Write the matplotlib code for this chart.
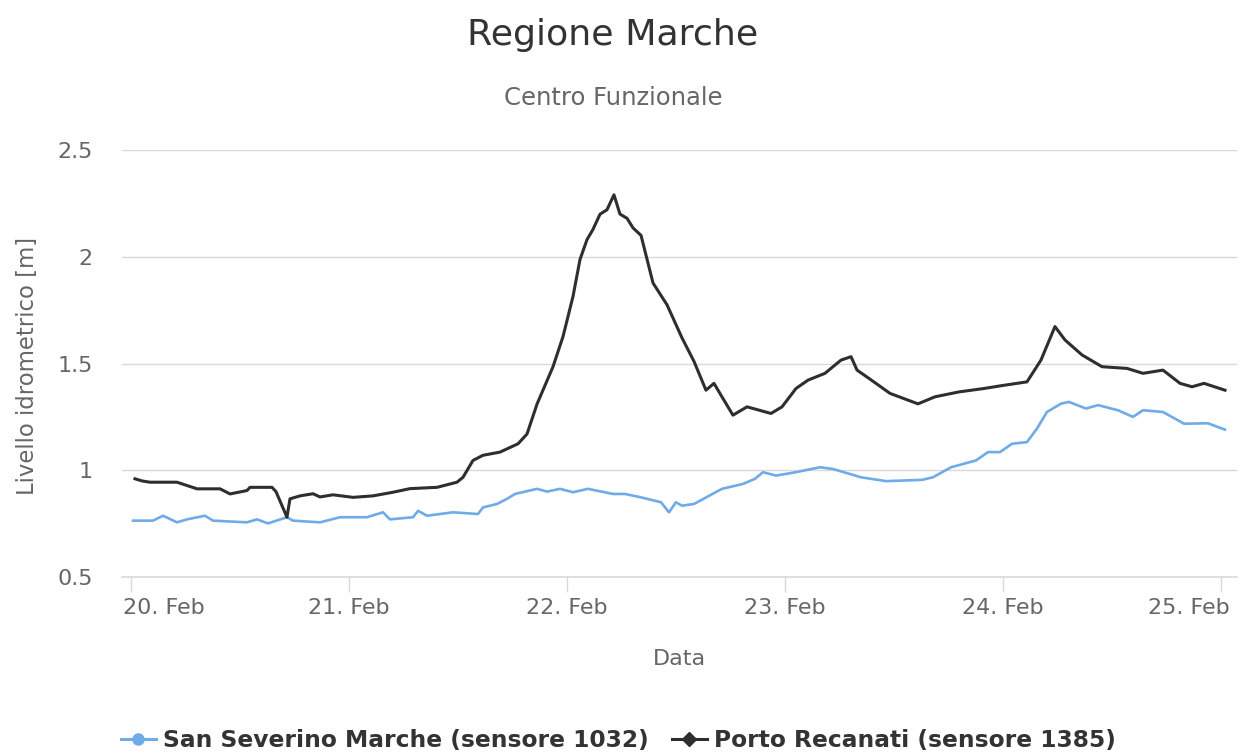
import matplotlib
matplotlib.use("Agg")
import matplotlib.pyplot as plt
from matplotlib.lines import Line2D
import matplotlib.transforms as mtransforms

# ---- data (hours since 20 Feb 00:00, water level in m) ----
porto_hours = [0.44, 1.21, 2.09, 5.06, 7.27, 9.80, 10.90, 12.77, 13.10, 15.52, 15.96, 17.17, 17.50,
               18.61, 20.04, 20.81, 22.24, 24.44, 26.64, 28.84, 30.72, 33.69, 35.89, 36.55, 37.65,
               38.75, 40.62, 42.61, 43.60, 44.70, 46.46, 47.56, 48.66, 49.43, 50.20, 50.86, 51.63,
               52.40, 53.17, 53.83, 54.61, 55.27, 56.15, 57.47, 59.01, 60.66, 61.98, 63.30, 64.18,
               65.06, 66.27, 67.82, 70.46, 71.67, 73.21, 74.53, 76.40, 78.17, 79.27, 79.93, 81.25,
               83.56, 86.64, 88.51, 91.16, 93.91, 96.11, 98.64, 100.18, 101.72, 102.83, 104.70,
               106.90, 109.65, 111.41, 113.61, 115.49, 116.81, 118.13, 120.44]
porto_level = [0.96, 0.95, 0.944, 0.944, 0.913, 0.913, 0.889, 0.905, 0.92, 0.92, 0.90, 0.78, 0.866,
               0.88, 0.89, 0.875, 0.885, 0.873, 0.88, 0.897, 0.914, 0.92, 0.944, 0.967, 1.046,
               1.07, 1.085, 1.124, 1.17, 1.31, 1.485, 1.626, 1.814, 1.987, 2.08, 2.128, 2.199,
               2.22, 2.29, 2.2, 2.18, 2.135, 2.10, 1.877, 1.775, 1.62, 1.51, 1.375, 1.407,
               1.344, 1.258, 1.297, 1.266, 1.297, 1.383, 1.422, 1.454, 1.516, 1.532, 1.469, 1.43,
               1.36, 1.311, 1.344, 1.367, 1.383, 1.398, 1.414, 1.516, 1.673, 1.61, 1.54,
               1.485, 1.477, 1.454, 1.469, 1.407, 1.391, 1.407, 1.375]

sanseverino_hours = [0.22, 2.42, 3.52, 5.06, 6.17, 8.15, 9.03, 12.77, 13.87, 15.08, 17.17, 17.83,
                     20.81, 23.01, 25.98, 27.74, 28.51, 31.05, 31.60, 32.59, 35.45, 38.20, 38.75,
                     40.29, 41.39, 42.28, 44.70, 45.80, 47.23, 48.66, 50.31, 53.06, 54.39, 56.15,
                     58.35, 59.23, 59.99, 60.66, 61.98, 65.06, 67.38, 68.70, 69.58, 71.01, 73.21,
                     75.85, 77.28, 80.37, 83.12, 87.08, 88.29, 90.28, 93.03, 94.35, 95.67, 96.99,
                     98.64, 99.74, 100.84, 102.39, 103.27, 105.14, 106.46, 108.66, 110.31, 111.41,
                     113.61, 115.93, 118.57, 120.44]
sanseverino_level = [0.764, 0.764, 0.787, 0.756, 0.77, 0.787, 0.764, 0.756, 0.77, 0.751, 0.78, 0.764,
                     0.756, 0.78, 0.78, 0.803, 0.77, 0.78, 0.81, 0.787, 0.803, 0.795, 0.826,
                     0.842, 0.866, 0.889, 0.913, 0.9, 0.913, 0.897, 0.913, 0.889, 0.889, 0.873,
                     0.85, 0.803, 0.85, 0.834, 0.842, 0.913, 0.936, 0.96, 0.991, 0.975, 0.991,
                     1.014, 1.006, 0.967, 0.949, 0.955, 0.967, 1.014, 1.046, 1.085, 1.085, 1.124,
                     1.132, 1.195, 1.273, 1.312, 1.32, 1.289, 1.305, 1.281, 1.25, 1.281,
                     1.273, 1.218, 1.22, 1.19]

tick_hours = [0, 24, 48, 72, 96, 120]
tick_labels = ["20. Feb", "21. Feb", "22. Feb", "23. Feb", "24. Feb", "25. Feb"]
y_ticks = [0.5, 1, 1.5, 2, 2.5]
y_ticklabels = ["0.5", "1", "1.5", "2", "2.5"]

series_names = ["San Severino Marche (sensore 1032)", "Porto Recanati (sensore 1385)"]

# ---- style ----
plt.rcParams['font.family'] = ['DejaVu Sans']
W, H = 1246, 755
fig = plt.figure(figsize=(W / 100, H / 100), dpi=100)
left_px, right_px, top_px, bot_px = 122, 1237, 150, 577
ax = fig.add_axes([left_px / W, 1 - bot_px / H, (right_px - left_px) / W, (bot_px - top_px) / H])

blue = '#6fabe8'
dark = '#2e2e30'
grid_c = '#d9d9d9'
label_c = '#666666'

ax.plot(sanseverino_hours, sanseverino_level, color=blue, lw=1.9, solid_joinstyle='round', zorder=3)
ax.plot(porto_hours, porto_level, color=dark, lw=2.2, solid_joinstyle='round', zorder=4)

px_per_hour = 218 / 24
ax.set_xlim((left_px - 131) / px_per_hour, (right_px - 131) / px_per_hour)
ax.set_ylim(0.5, 2.5)
ax.set_yticks(y_ticks)
ax.set_yticklabels(y_ticklabels)
ax.set_xticks(tick_hours)
ax.set_xticklabels(tick_labels)

ax.grid(axis='y', color=grid_c, lw=1)
ax.set_axisbelow(True)
for s in ['top', 'right', 'left']:
    ax.spines[s].set_visible(False)
ax.spines['bottom'].set_color(grid_c)
ax.spines['bottom'].set_linewidth(1.2)

ax.tick_params(axis='y', length=0, pad=21, labelsize=16, labelcolor=label_c)
ax.tick_params(axis='x', length=11, width=1, color=grid_c, direction='out', pad=4,
               labelsize=16, labelcolor=label_c)

xt = ax.get_xticklabels()
xt[0].set_horizontalalignment('left')
xt[0].set_transform(xt[0].get_transform() + mtransforms.ScaledTranslation(-8 / 100, 0, fig.dpi_scale_trans))
xt[-1].set_horizontalalignment('right')
xt[-1].set_transform(xt[-1].get_transform() + mtransforms.ScaledTranslation(9 / 100, 0, fig.dpi_scale_trans))

fig.text(28 / W, 1 - 366 / H, "Livello idrometrico [m]", rotation=90, ha='center', va='center',
         fontsize=16.4, color=label_c)
fig.text(679 / W, 1 - 659 / H, "Data", ha='center', va='center', fontsize=16, color=label_c)

fig.text(613 / W, 1 - 35 / H, "Regione Marche", ha='center', va='center', fontsize=26.2, color='#333333')
fig.text(613 / W, 1 - 98 / H, "Centro Funzionale", ha='center', va='center', fontsize=17.5, color=label_c)

handles = [Line2D([], [], color=blue, lw=2.2, marker='o', markersize=8),
           Line2D([], [], color=dark, lw=2.2, marker='D', markersize=7)]
fig.legend(handles, series_names, loc='center', bbox_to_anchor=(618 / W, 1 - 741 / H), ncol=2,
           frameon=False, handlelength=1.5, columnspacing=1.0, handletextpad=0.3,
           prop={'weight': 'bold', 'size': 16.8}, labelcolor='#333333')

fig.savefig("out.png", dpi=100, facecolor='white')
